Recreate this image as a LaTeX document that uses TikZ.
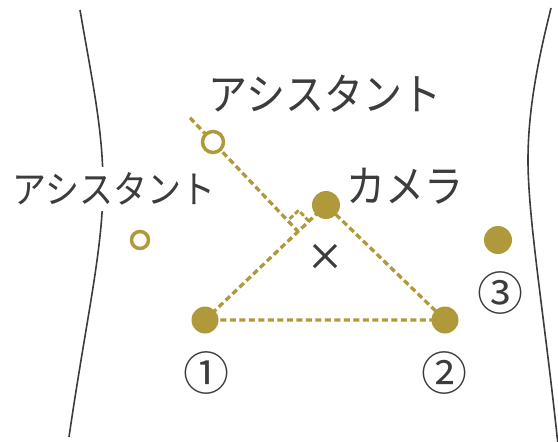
\documentclass[tikz,border=0pt]{standalone}
\usepackage{fontspec}
\newfontfamily\jp{Noto Sans CJK JP}
\usetikzlibrary{calc}
\definecolor{gold}{RGB}{176,153,58}
\definecolor{ink}{RGB}{60,60,60}
\tikzset{
  guide/.style={draw=gold, line width=3.3pt, dash pattern=on 6pt off 3.5pt},
  port/.style={circle, fill=gold, inner sep=0pt, minimum size=#1},
  openport/.style={circle, draw=gold, line width=3.5pt, fill=white, inner sep=0pt, minimum size=#1},
  body/.style={draw=ink, line width=1.6pt},
  lbl/.style={font=\jp\fontsize{#1}{#1}\selectfont, text=ink, inner sep=0pt},
  num/.style={font=\jp\fontsize{46}{46}\selectfont, text=ink, inner sep=0pt}
}
\newcommand\tallText[1]{\scalebox{1}[1.12]{#1}}
\begin{document}
\begin{tikzpicture}[x=1pt,y=-1pt]
\useasboundingbox[fill=white] (0,0) rectangle (558,442);
% body outline
\draw[body] (80,10) .. controls (92,80) and (103,130) .. (103,185)
                    .. controls (103,250) and (86,320) .. (69,437);
\draw[body] (551,8) .. controls (538,60) and (528,110) .. (528,160)
                    .. controls (528,220) and (545,320) .. (558,445);
% port positions
\coordinate (cam) at (326,205);
\coordinate (p1) at (205,320);
\coordinate (p2) at (445,320);
\coordinate (p3) at (498,240);
\coordinate (a1) at (213,142);
\coordinate (a2) at (140,240);
\coordinate (F) at ($(p1)!(a1)!(cam)$);
\coordinate (T) at ($(F)!1.27!(a1)$);
\coordinate (m1) at ($(F)!15pt!(cam)$);
\coordinate (m2) at ($(F)!15pt!(a1)$);
\coordinate (m3) at ($(m1)+(m2)-(F)$);
% guide lines
\draw[guide] (p1) -- (cam) -- (p2) -- cycle;
\draw[guide] (T) -- (F);
\draw[guide, line width=2.8pt, dash pattern=on 5pt off 2.5pt] (m1) -- (m3) -- (m2);
% ports
\node[port=28pt] (ncam) at (cam) {};
\node[port=27pt] (n1) at (p1) {};
\node[port=27pt] (n2) at (p2) {};
\node[port=28pt] (n3) at (p3) {};
\node[openport=21pt] (na1) at (a1) {};
\node[openport=17pt] (na2) at (a2) {};
% target mark
\coordinate (x) at (325,256);
\draw[ink, line width=3pt] ($(x)+(-11,-11)$) -- ($(x)+(11,11)$);
\draw[ink, line width=3pt] ($(x)+(11,-11)$) -- ($(x)+(-11,11)$);
% labels
\node[lbl=39] (ltop) at (325,94) {\tallText{アシスタント}};
\node[lbl=34, fill=white, inner ysep=6pt] (lleft) at (114,189) {\tallText{アシスタント}};
\node[lbl=39] (lcam) at (405,186) {\tallText{カメラ}};
\node[num] (c1) at (206,373) {①};
\node[num] (c2) at (444,373) {②};
\node[num] (c3) at (500,293) {③};
\end{tikzpicture}
\end{document}
